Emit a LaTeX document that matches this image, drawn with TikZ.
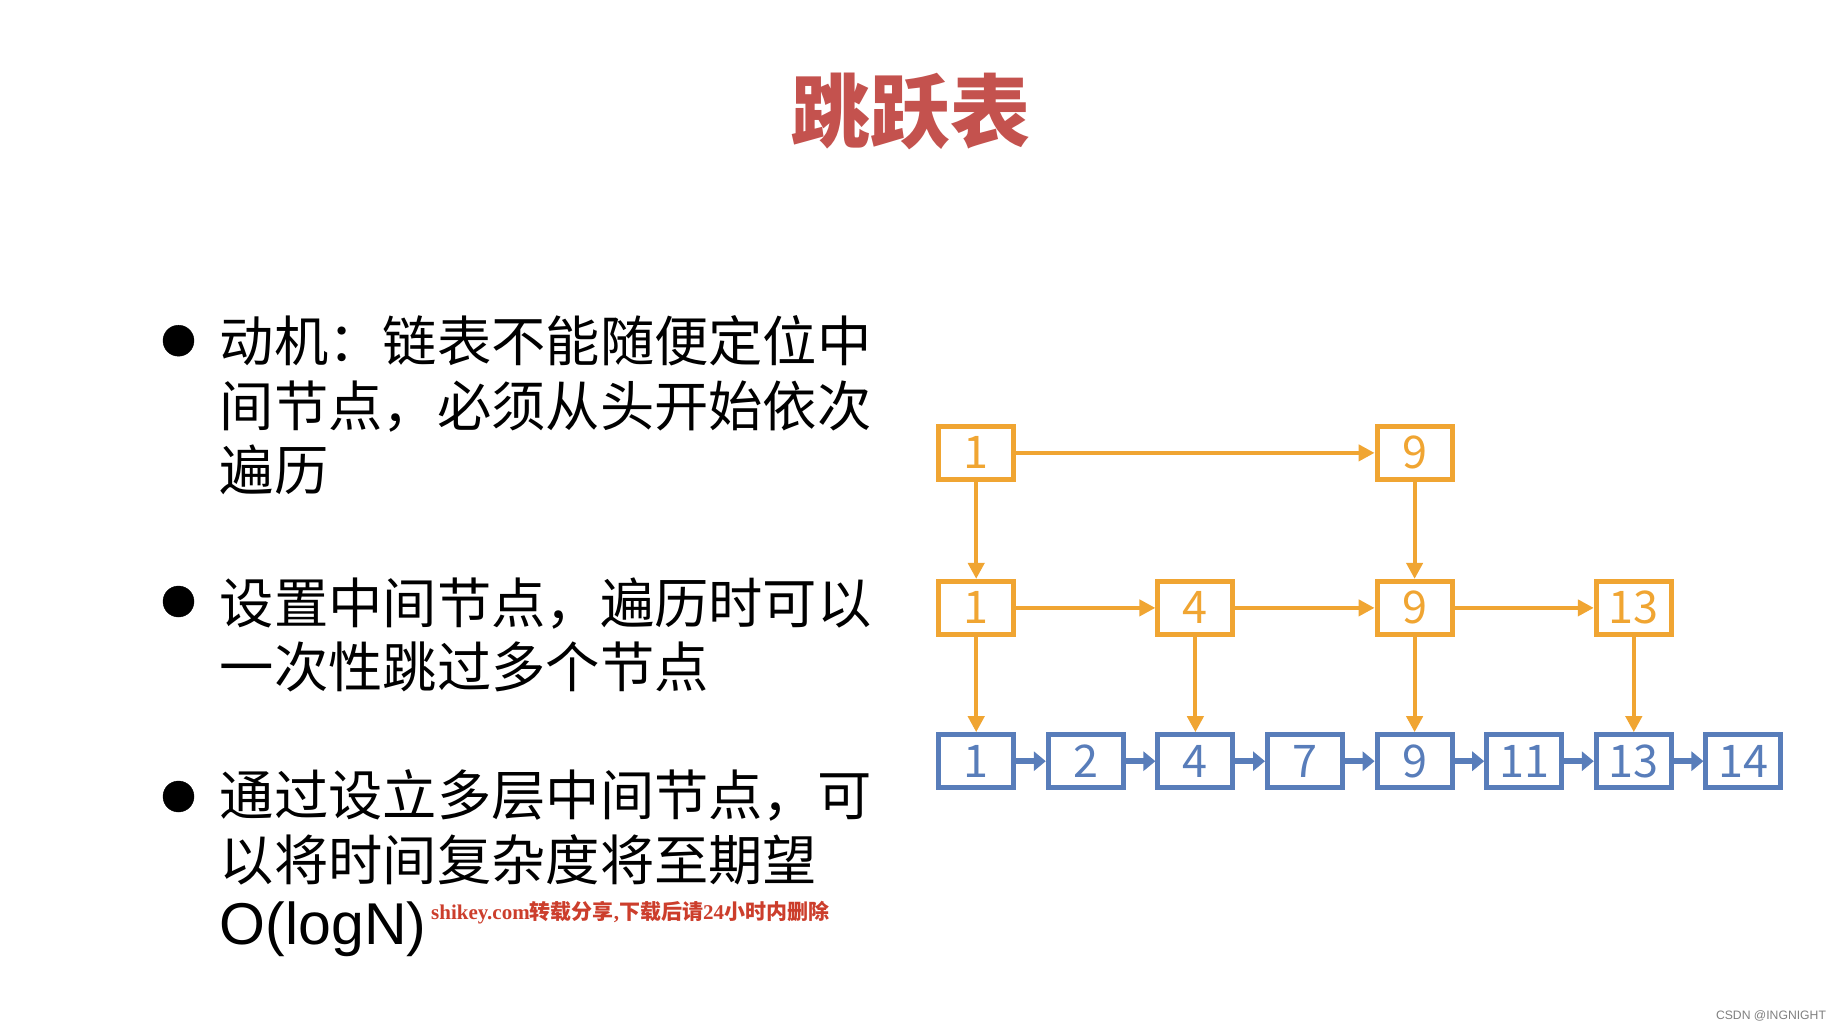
\documentclass[tikz,border=0pt]{standalone}
\usepackage{fontspec}
\setmainfont{Noto Sans CJK SC}
\newfontfamily\lat{Liberation Sans}
\newfontfamily\ser{Liberation Serif}
\usepackage{tikz}
\usetikzlibrary{positioning, arrows.meta}
\definecolor{orng}{RGB}{240,165,50}
\definecolor{blu}{RGB}{88,125,186}
\definecolor{ttlred}{RGB}{196,82,78}
\definecolor{wmred}{RGB}{204,62,44}
\tikzset{
  ob/.style={draw=orng, line width=5pt, minimum width=75pt, minimum height=53pt, inner sep=0pt, text=orng, font=\fontsize{45}{45}\selectfont},
  bb/.style={ob, draw=blu, text=blu},
  oa/.style={draw=orng, line width=4pt, -{Triangle[length=16pt,width=16pt]}},
  ba/.style={draw=blu, line width=6pt, -{Triangle[length=12pt,width=19pt]}},
  para/.style={anchor=west, align=left, inner sep=0pt, font=\fontsize{54.3}{64.6}\selectfont}}

\begin{document}
\begin{tikzpicture}[x=1pt, y=-1pt]
	\fill [white] (0,0) rectangle (1842,1032);
	\useasboundingbox (0,0) rectangle (1842,1032);
	\node [text=ttlred, font=\fontsize{80}{80}\selectfont\bfseries] (ttl) at (910,111) {跳跃表};
	\coordinate (d1) at (178.5,340.7);
	\coordinate (d2) at (178.5,601.5);
	\coordinate (d3) at (178.5,796.5);
	\draw [fill] (d1) circle (15.5pt);
	\draw [fill] (d2) circle (15.5pt);
	\draw [fill] (d3) circle (15.5pt);
	\node [para] (p1) at (219.7,405.3) {动机：链表不能随便定位中\\间节点，必须从头开始依次\\遍历};
	\node [para] (p2) at (219.7,634.9) {设置中间节点，遍历时可以\\一次性跳过多个节点};
	\node [para] (p3) at (219.7,863.4) {通过设立多层中间节点，可\\以将时间复杂度将至期望\\{\lat\fontsize{59}{64.6}\selectfont O(logN)}};
	\node [anchor=west, inner sep=0pt, text=wmred, font=\fontsize{21}{22}\selectfont\bfseries] (wm) at (431,913) {{\ser shikey.com}转载分享{\ser ,}下载后请{\ser 24}小时内删除};
	\node [text=black!50, font=\lat\fontsize{12.2}{13}\selectfont] (cr) at (1771,1016) {CSDN @INGNIGHT};
	\node [bb] (b1) at (976.2,761.2) {1};
	\node [bb, right=29.6pt of b1] (b2) {2};
	\node [bb, right=29.6pt of b2] (b4) {4};
	\node [bb, right=29.6pt of b4] (b7) {7};
	\node [bb, right=29.6pt of b7] (b9) {9};
	\node [bb, right=29.6pt of b9] (b11) {11};
	\node [bb, right=29.6pt of b11] (b13) {13};
	\node [bb, right=29.6pt of b13] (b14) {14};
	\node [ob, above=95.3pt of b1] (m1) {1};
	\node [ob, above=95.3pt of b4] (m4) {4};
	\node [ob, above=95.3pt of b9] (m9) {9};
	\node [ob, above=95.3pt of b13] (m13) {13};
	\node [ob, above=97pt of m1] (t1) {1};
	\node [ob, above=97pt of m9] (t9) {9};
	\draw [oa] (t1) -- (t9);
	\draw [oa] (t1) -- (m1);
	\draw [oa] (t9) -- (m9);
	\draw [oa] (m1) -- (m4);
	\draw [oa] (m4) -- (m9);
	\draw [oa] (m9) -- (m13);
	\draw [oa] (m1) -- (b1);
	\draw [oa] (m4) -- (b4);
	\draw [oa] (m9) -- (b9);
	\draw [oa] (m13) -- (b13);
	\draw [ba] (b1) -- (b2);
	\draw [ba] (b2) -- (b4);
	\draw [ba] (b4) -- (b7);
	\draw [ba] (b7) -- (b9);
	\draw [ba] (b9) -- (b11);
	\draw [ba] (b11) -- (b13);
	\draw [ba] (b13) -- (b14);
\end{tikzpicture}
\end{document}
